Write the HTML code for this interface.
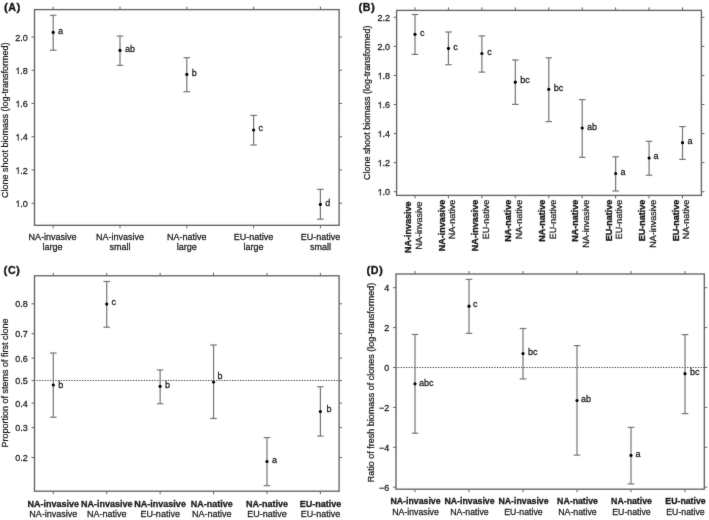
<!DOCTYPE html>
<html><head><meta charset="utf-8"><style>
html,body{margin:0;padding:0;background:#fff;}
body{width:709px;height:520px;overflow:hidden;}
svg{display:block;font-family:"Liberation Sans", sans-serif;}
text{stroke:#1a1a1a;stroke-width:0.26px;}
text.ns{stroke-width:0.24px;text-rendering:geometricPrecision;}
text.bs{stroke-width:0.35px;}
text.hb{stroke-width:0.3px;}
</style></head><body>
<svg width="709" height="520" viewBox="0 0 709 520">
<defs><filter id="soft" filterUnits="userSpaceOnUse" x="0" y="0" width="709" height="520" color-interpolation-filters="sRGB"><feConvolveMatrix order="3" kernelMatrix="0.012 0.06 0.012 0.06 0.712 0.06 0.012 0.06 0.012" divisor="1" edgeMode="duplicate"/></filter></defs>
<g filter="url(#soft)">
<rect width="709" height="520" fill="#fff"/>
<rect x="34.50" y="9.60" width="304.60" height="215.70" fill="none" stroke="#636363" stroke-width="1.35"/>
<line x1="31.50" y1="37.00" x2="34.50" y2="37.00" stroke="#636363" stroke-width="1" />
<line x1="339.10" y1="37.00" x2="342.10" y2="37.00" stroke="#636363" stroke-width="1" />
<text x="27.80" y="40.70" font-size="9" text-anchor="end" font-weight="normal" fill="#1a1a1a">2.0</text>
<line x1="31.50" y1="70.24" x2="34.50" y2="70.24" stroke="#636363" stroke-width="1" />
<line x1="339.10" y1="70.24" x2="342.10" y2="70.24" stroke="#636363" stroke-width="1" />
<path d="M17.85,73.94 L18.64,73.94 L18.64,67.50 L18.13,67.50 L17.75,67.88 L16.27,69.04 L16.27,69.80 L17.85,68.90 Z" fill="#1a1a1a" stroke="#1a1a1a" stroke-width="0.18"/>
<text x="20.29" y="73.94" font-size="9" text-anchor="start" font-weight="normal" fill="#1a1a1a">.8</text>
<line x1="31.50" y1="103.48" x2="34.50" y2="103.48" stroke="#636363" stroke-width="1" />
<line x1="339.10" y1="103.48" x2="342.10" y2="103.48" stroke="#636363" stroke-width="1" />
<path d="M17.85,107.18 L18.64,107.18 L18.64,100.74 L18.13,100.74 L17.75,101.12 L16.27,102.28 L16.27,103.04 L17.85,102.14 Z" fill="#1a1a1a" stroke="#1a1a1a" stroke-width="0.18"/>
<text x="20.29" y="107.18" font-size="9" text-anchor="start" font-weight="normal" fill="#1a1a1a">.6</text>
<line x1="31.50" y1="136.72" x2="34.50" y2="136.72" stroke="#636363" stroke-width="1" />
<line x1="339.10" y1="136.72" x2="342.10" y2="136.72" stroke="#636363" stroke-width="1" />
<path d="M17.85,140.42 L18.64,140.42 L18.64,133.98 L18.13,133.98 L17.75,134.36 L16.27,135.52 L16.27,136.28 L17.85,135.38 Z" fill="#1a1a1a" stroke="#1a1a1a" stroke-width="0.18"/>
<text x="20.29" y="140.42" font-size="9" text-anchor="start" font-weight="normal" fill="#1a1a1a">.4</text>
<line x1="31.50" y1="169.96" x2="34.50" y2="169.96" stroke="#636363" stroke-width="1" />
<line x1="339.10" y1="169.96" x2="342.10" y2="169.96" stroke="#636363" stroke-width="1" />
<path d="M17.85,173.66 L18.64,173.66 L18.64,167.22 L18.13,167.22 L17.75,167.60 L16.27,168.76 L16.27,169.52 L17.85,168.62 Z" fill="#1a1a1a" stroke="#1a1a1a" stroke-width="0.18"/>
<text x="20.29" y="173.66" font-size="9" text-anchor="start" font-weight="normal" fill="#1a1a1a">.2</text>
<line x1="31.50" y1="203.20" x2="34.50" y2="203.20" stroke="#636363" stroke-width="1" />
<line x1="339.10" y1="203.20" x2="342.10" y2="203.20" stroke="#636363" stroke-width="1" />
<path d="M17.85,206.90 L18.64,206.90 L18.64,200.46 L18.13,200.46 L17.75,200.84 L16.27,202.00 L16.27,202.76 L17.85,201.86 Z" fill="#1a1a1a" stroke="#1a1a1a" stroke-width="0.18"/>
<text x="20.29" y="206.90" font-size="9" text-anchor="start" font-weight="normal" fill="#1a1a1a">.0</text>
<line x1="53.20" y1="6.60" x2="53.20" y2="9.60" stroke="#636363" stroke-width="1" />
<line x1="53.20" y1="225.30" x2="53.20" y2="228.30" stroke="#636363" stroke-width="1" />
<line x1="120.00" y1="6.60" x2="120.00" y2="9.60" stroke="#636363" stroke-width="1" />
<line x1="120.00" y1="225.30" x2="120.00" y2="228.30" stroke="#636363" stroke-width="1" />
<line x1="186.80" y1="6.60" x2="186.80" y2="9.60" stroke="#636363" stroke-width="1" />
<line x1="186.80" y1="225.30" x2="186.80" y2="228.30" stroke="#636363" stroke-width="1" />
<line x1="253.60" y1="6.60" x2="253.60" y2="9.60" stroke="#636363" stroke-width="1" />
<line x1="253.60" y1="225.30" x2="253.60" y2="228.30" stroke="#636363" stroke-width="1" />
<line x1="320.40" y1="6.60" x2="320.40" y2="9.60" stroke="#636363" stroke-width="1" />
<line x1="320.40" y1="225.30" x2="320.40" y2="228.30" stroke="#636363" stroke-width="1" />
<text x="52.60" y="240.00" font-size="9" text-anchor="middle" font-weight="normal" fill="#1a1a1a">NA-invasive</text>
<text x="52.60" y="250.00" font-size="9" text-anchor="middle" font-weight="normal" fill="#1a1a1a">large</text>
<text x="120.00" y="240.00" font-size="9" text-anchor="middle" font-weight="normal" fill="#1a1a1a">NA-invasive</text>
<text x="120.00" y="250.00" font-size="9" text-anchor="middle" font-weight="normal" fill="#1a1a1a">small</text>
<text x="186.80" y="240.00" font-size="9" text-anchor="middle" font-weight="normal" fill="#1a1a1a">NA-native</text>
<text x="186.80" y="250.00" font-size="9" text-anchor="middle" font-weight="normal" fill="#1a1a1a">large</text>
<text x="253.60" y="240.00" font-size="9" text-anchor="middle" font-weight="normal" fill="#1a1a1a">EU-native</text>
<text x="253.60" y="250.00" font-size="9" text-anchor="middle" font-weight="normal" fill="#1a1a1a">large</text>
<text x="320.40" y="240.00" font-size="9" text-anchor="middle" font-weight="normal" fill="#1a1a1a">EU-native</text>
<text x="320.40" y="250.00" font-size="9" text-anchor="middle" font-weight="normal" fill="#1a1a1a">small</text>
<line x1="53.20" y1="15.30" x2="53.20" y2="50.20" stroke="#767676" stroke-width="1.2" />
<line x1="49.90" y1="15.30" x2="56.50" y2="15.30" stroke="#767676" stroke-width="1.2" />
<line x1="49.90" y1="50.20" x2="56.50" y2="50.20" stroke="#767676" stroke-width="1.2" />
<circle cx="53.20" cy="32.40" r="1.6" fill="#000"/>
<text x="58.10" y="33.50" font-size="9" text-anchor="start" font-weight="normal" fill="#1a1a1a">a</text>
<line x1="120.00" y1="36.00" x2="120.00" y2="65.40" stroke="#767676" stroke-width="1.2" />
<line x1="116.70" y1="36.00" x2="123.30" y2="36.00" stroke="#767676" stroke-width="1.2" />
<line x1="116.70" y1="65.40" x2="123.30" y2="65.40" stroke="#767676" stroke-width="1.2" />
<circle cx="120.00" cy="50.40" r="1.6" fill="#000"/>
<text x="124.90" y="51.60" font-size="9" text-anchor="start" font-weight="normal" fill="#1a1a1a">ab</text>
<line x1="186.80" y1="57.70" x2="186.80" y2="91.70" stroke="#767676" stroke-width="1.2" />
<line x1="183.50" y1="57.70" x2="190.10" y2="57.70" stroke="#767676" stroke-width="1.2" />
<line x1="183.50" y1="91.70" x2="190.10" y2="91.70" stroke="#767676" stroke-width="1.2" />
<circle cx="186.80" cy="74.40" r="1.6" fill="#000"/>
<text x="191.70" y="75.60" font-size="9" text-anchor="start" font-weight="normal" fill="#1a1a1a">b</text>
<line x1="253.60" y1="115.40" x2="253.60" y2="145.00" stroke="#767676" stroke-width="1.2" />
<line x1="250.30" y1="115.40" x2="256.90" y2="115.40" stroke="#767676" stroke-width="1.2" />
<line x1="250.30" y1="145.00" x2="256.90" y2="145.00" stroke="#767676" stroke-width="1.2" />
<circle cx="253.60" cy="130.00" r="1.6" fill="#000"/>
<text x="258.50" y="131.30" font-size="9" text-anchor="start" font-weight="normal" fill="#1a1a1a">c</text>
<line x1="320.40" y1="189.40" x2="320.40" y2="219.20" stroke="#767676" stroke-width="1.2" />
<line x1="317.10" y1="189.40" x2="323.70" y2="189.40" stroke="#767676" stroke-width="1.2" />
<line x1="317.10" y1="219.20" x2="323.70" y2="219.20" stroke="#767676" stroke-width="1.2" />
<circle cx="320.40" cy="204.40" r="1.6" fill="#000"/>
<text x="325.30" y="206.20" font-size="9" text-anchor="start" font-weight="normal" fill="#1a1a1a">d</text>
<text x="8.10" y="120.30" font-size="9" text-anchor="middle" font-weight="normal" fill="#1a1a1a" transform="rotate(-90 8.10 120.30)">Clone shoot biomass (log-transformed)</text>
<text x="4.00" y="11.10" font-size="11.6" font-weight="bold" fill="#111" letter-spacing="0.45" style="stroke-width:0.3px">(<tspan font-size="10.7">A</tspan>)</text>
<rect x="396.60" y="10.40" width="304.80" height="185.00" fill="none" stroke="#636363" stroke-width="1.35"/>
<line x1="393.60" y1="17.30" x2="396.60" y2="17.30" stroke="#636363" stroke-width="1" />
<line x1="701.40" y1="17.30" x2="704.40" y2="17.30" stroke="#636363" stroke-width="1" />
<text x="389.90" y="21.00" font-size="9" text-anchor="end" font-weight="normal" fill="#1a1a1a">2.2</text>
<line x1="393.60" y1="46.37" x2="396.60" y2="46.37" stroke="#636363" stroke-width="1" />
<line x1="701.40" y1="46.37" x2="704.40" y2="46.37" stroke="#636363" stroke-width="1" />
<text x="389.90" y="50.07" font-size="9" text-anchor="end" font-weight="normal" fill="#1a1a1a">2.0</text>
<line x1="393.60" y1="75.44" x2="396.60" y2="75.44" stroke="#636363" stroke-width="1" />
<line x1="701.40" y1="75.44" x2="704.40" y2="75.44" stroke="#636363" stroke-width="1" />
<path d="M379.95,79.14 L380.74,79.14 L380.74,72.70 L380.23,72.70 L379.85,73.08 L378.37,74.24 L378.37,75.00 L379.95,74.10 Z" fill="#1a1a1a" stroke="#1a1a1a" stroke-width="0.18"/>
<text x="382.39" y="79.14" font-size="9" text-anchor="start" font-weight="normal" fill="#1a1a1a">.8</text>
<line x1="393.60" y1="104.51" x2="396.60" y2="104.51" stroke="#636363" stroke-width="1" />
<line x1="701.40" y1="104.51" x2="704.40" y2="104.51" stroke="#636363" stroke-width="1" />
<path d="M379.95,108.21 L380.74,108.21 L380.74,101.77 L380.23,101.77 L379.85,102.15 L378.37,103.31 L378.37,104.07 L379.95,103.17 Z" fill="#1a1a1a" stroke="#1a1a1a" stroke-width="0.18"/>
<text x="382.39" y="108.21" font-size="9" text-anchor="start" font-weight="normal" fill="#1a1a1a">.6</text>
<line x1="393.60" y1="133.58" x2="396.60" y2="133.58" stroke="#636363" stroke-width="1" />
<line x1="701.40" y1="133.58" x2="704.40" y2="133.58" stroke="#636363" stroke-width="1" />
<path d="M379.95,137.28 L380.74,137.28 L380.74,130.84 L380.23,130.84 L379.85,131.22 L378.37,132.38 L378.37,133.14 L379.95,132.24 Z" fill="#1a1a1a" stroke="#1a1a1a" stroke-width="0.18"/>
<text x="382.39" y="137.28" font-size="9" text-anchor="start" font-weight="normal" fill="#1a1a1a">.4</text>
<line x1="393.60" y1="162.65" x2="396.60" y2="162.65" stroke="#636363" stroke-width="1" />
<line x1="701.40" y1="162.65" x2="704.40" y2="162.65" stroke="#636363" stroke-width="1" />
<path d="M379.95,166.35 L380.74,166.35 L380.74,159.91 L380.23,159.91 L379.85,160.29 L378.37,161.45 L378.37,162.21 L379.95,161.31 Z" fill="#1a1a1a" stroke="#1a1a1a" stroke-width="0.18"/>
<text x="382.39" y="166.35" font-size="9" text-anchor="start" font-weight="normal" fill="#1a1a1a">.2</text>
<line x1="393.60" y1="191.72" x2="396.60" y2="191.72" stroke="#636363" stroke-width="1" />
<line x1="701.40" y1="191.72" x2="704.40" y2="191.72" stroke="#636363" stroke-width="1" />
<path d="M379.95,195.42 L380.74,195.42 L380.74,188.98 L380.23,188.98 L379.85,189.36 L378.37,190.52 L378.37,191.28 L379.95,190.38 Z" fill="#1a1a1a" stroke="#1a1a1a" stroke-width="0.18"/>
<text x="382.39" y="195.42" font-size="9" text-anchor="start" font-weight="normal" fill="#1a1a1a">.0</text>
<line x1="415.00" y1="7.40" x2="415.00" y2="10.40" stroke="#636363" stroke-width="1" />
<line x1="415.00" y1="195.40" x2="415.00" y2="198.40" stroke="#636363" stroke-width="1" />
<line x1="448.44" y1="7.40" x2="448.44" y2="10.40" stroke="#636363" stroke-width="1" />
<line x1="448.44" y1="195.40" x2="448.44" y2="198.40" stroke="#636363" stroke-width="1" />
<line x1="481.88" y1="7.40" x2="481.88" y2="10.40" stroke="#636363" stroke-width="1" />
<line x1="481.88" y1="195.40" x2="481.88" y2="198.40" stroke="#636363" stroke-width="1" />
<line x1="515.32" y1="7.40" x2="515.32" y2="10.40" stroke="#636363" stroke-width="1" />
<line x1="515.32" y1="195.40" x2="515.32" y2="198.40" stroke="#636363" stroke-width="1" />
<line x1="548.76" y1="7.40" x2="548.76" y2="10.40" stroke="#636363" stroke-width="1" />
<line x1="548.76" y1="195.40" x2="548.76" y2="198.40" stroke="#636363" stroke-width="1" />
<line x1="582.20" y1="7.40" x2="582.20" y2="10.40" stroke="#636363" stroke-width="1" />
<line x1="582.20" y1="195.40" x2="582.20" y2="198.40" stroke="#636363" stroke-width="1" />
<line x1="615.64" y1="7.40" x2="615.64" y2="10.40" stroke="#636363" stroke-width="1" />
<line x1="615.64" y1="195.40" x2="615.64" y2="198.40" stroke="#636363" stroke-width="1" />
<line x1="649.08" y1="7.40" x2="649.08" y2="10.40" stroke="#636363" stroke-width="1" />
<line x1="649.08" y1="195.40" x2="649.08" y2="198.40" stroke="#636363" stroke-width="1" />
<line x1="682.52" y1="7.40" x2="682.52" y2="10.40" stroke="#636363" stroke-width="1" />
<line x1="682.52" y1="195.40" x2="682.52" y2="198.40" stroke="#636363" stroke-width="1" />
<text x="411.10" y="201.50" font-size="9" text-anchor="end" font-weight="bold" fill="#1a1a1a" transform="rotate(-90 411.10 201.50)" class="bs">NA-invasive</text>
<text x="421.80" y="201.50" font-size="9" text-anchor="end" font-weight="normal" fill="#1a1a1a" transform="rotate(-90 421.80 201.50)" class="ns">NA-invasive</text>
<text x="444.54" y="199.80" font-size="9" text-anchor="end" font-weight="bold" fill="#1a1a1a" transform="rotate(-90 444.54 199.80)" class="bs">NA-invasive</text>
<text x="455.24" y="199.80" font-size="9" text-anchor="end" font-weight="normal" fill="#1a1a1a" transform="rotate(-90 455.24 199.80)" class="ns">NA-native</text>
<text x="477.98" y="199.80" font-size="9" text-anchor="end" font-weight="bold" fill="#1a1a1a" transform="rotate(-90 477.98 199.80)" class="bs">NA-invasive</text>
<text x="488.68" y="199.80" font-size="9" text-anchor="end" font-weight="normal" fill="#1a1a1a" transform="rotate(-90 488.68 199.80)" class="ns">EU-native</text>
<text x="511.42" y="199.80" font-size="9" text-anchor="end" font-weight="bold" fill="#1a1a1a" transform="rotate(-90 511.42 199.80)" class="bs">NA-native</text>
<text x="522.12" y="199.80" font-size="9" text-anchor="end" font-weight="normal" fill="#1a1a1a" transform="rotate(-90 522.12 199.80)" class="ns">NA-native</text>
<text x="544.86" y="199.80" font-size="9" text-anchor="end" font-weight="bold" fill="#1a1a1a" transform="rotate(-90 544.86 199.80)" class="bs">NA-native</text>
<text x="555.56" y="199.80" font-size="9" text-anchor="end" font-weight="normal" fill="#1a1a1a" transform="rotate(-90 555.56 199.80)" class="ns">EU-native</text>
<text x="578.30" y="199.80" font-size="9" text-anchor="end" font-weight="bold" fill="#1a1a1a" transform="rotate(-90 578.30 199.80)" class="bs">NA-native</text>
<text x="589.00" y="199.80" font-size="9" text-anchor="end" font-weight="normal" fill="#1a1a1a" transform="rotate(-90 589.00 199.80)" class="ns">NA-invasive</text>
<text x="611.74" y="199.80" font-size="9" text-anchor="end" font-weight="bold" fill="#1a1a1a" transform="rotate(-90 611.74 199.80)" class="bs">EU-native</text>
<text x="622.44" y="199.80" font-size="9" text-anchor="end" font-weight="normal" fill="#1a1a1a" transform="rotate(-90 622.44 199.80)" class="ns">EU-native</text>
<text x="645.18" y="199.80" font-size="9" text-anchor="end" font-weight="bold" fill="#1a1a1a" transform="rotate(-90 645.18 199.80)" class="bs">EU-native</text>
<text x="655.88" y="199.80" font-size="9" text-anchor="end" font-weight="normal" fill="#1a1a1a" transform="rotate(-90 655.88 199.80)" class="ns">NA-invasive</text>
<text x="678.62" y="199.80" font-size="9" text-anchor="end" font-weight="bold" fill="#1a1a1a" transform="rotate(-90 678.62 199.80)" class="bs">EU-native</text>
<text x="689.32" y="199.80" font-size="9" text-anchor="end" font-weight="normal" fill="#1a1a1a" transform="rotate(-90 689.32 199.80)" class="ns">NA-native</text>
<line x1="415.00" y1="14.50" x2="415.00" y2="54.40" stroke="#767676" stroke-width="1.2" />
<line x1="411.70" y1="14.50" x2="418.30" y2="14.50" stroke="#767676" stroke-width="1.2" />
<line x1="411.70" y1="54.40" x2="418.30" y2="54.40" stroke="#767676" stroke-width="1.2" />
<circle cx="415.00" cy="34.30" r="1.6" fill="#000"/>
<text x="419.90" y="35.80" font-size="9" text-anchor="start" font-weight="normal" fill="#1a1a1a">c</text>
<line x1="448.44" y1="32.00" x2="448.44" y2="64.70" stroke="#767676" stroke-width="1.2" />
<line x1="445.14" y1="32.00" x2="451.74" y2="32.00" stroke="#767676" stroke-width="1.2" />
<line x1="445.14" y1="64.70" x2="451.74" y2="64.70" stroke="#767676" stroke-width="1.2" />
<circle cx="448.44" cy="48.40" r="1.6" fill="#000"/>
<text x="453.34" y="49.60" font-size="9" text-anchor="start" font-weight="normal" fill="#1a1a1a">c</text>
<line x1="481.88" y1="35.90" x2="481.88" y2="72.10" stroke="#767676" stroke-width="1.2" />
<line x1="478.58" y1="35.90" x2="485.18" y2="35.90" stroke="#767676" stroke-width="1.2" />
<line x1="478.58" y1="72.10" x2="485.18" y2="72.10" stroke="#767676" stroke-width="1.2" />
<circle cx="481.88" cy="53.50" r="1.6" fill="#000"/>
<text x="487.28" y="55.00" font-size="9" text-anchor="start" font-weight="normal" fill="#1a1a1a">c</text>
<line x1="515.32" y1="60.00" x2="515.32" y2="104.40" stroke="#767676" stroke-width="1.2" />
<line x1="512.02" y1="60.00" x2="518.62" y2="60.00" stroke="#767676" stroke-width="1.2" />
<line x1="512.02" y1="104.40" x2="518.62" y2="104.40" stroke="#767676" stroke-width="1.2" />
<circle cx="515.32" cy="82.20" r="1.6" fill="#000"/>
<text x="520.22" y="83.40" font-size="9" text-anchor="start" font-weight="normal" fill="#1a1a1a">bc</text>
<line x1="548.76" y1="57.80" x2="548.76" y2="121.60" stroke="#767676" stroke-width="1.2" />
<line x1="545.46" y1="57.80" x2="552.06" y2="57.80" stroke="#767676" stroke-width="1.2" />
<line x1="545.46" y1="121.60" x2="552.06" y2="121.60" stroke="#767676" stroke-width="1.2" />
<circle cx="548.76" cy="89.30" r="1.6" fill="#000"/>
<text x="553.66" y="90.80" font-size="9" text-anchor="start" font-weight="normal" fill="#1a1a1a">bc</text>
<line x1="582.20" y1="99.60" x2="582.20" y2="157.30" stroke="#767676" stroke-width="1.2" />
<line x1="578.90" y1="99.60" x2="585.50" y2="99.60" stroke="#767676" stroke-width="1.2" />
<line x1="578.90" y1="157.30" x2="585.50" y2="157.30" stroke="#767676" stroke-width="1.2" />
<circle cx="582.20" cy="128.00" r="1.6" fill="#000"/>
<text x="587.10" y="129.50" font-size="9" text-anchor="start" font-weight="normal" fill="#1a1a1a">ab</text>
<line x1="615.64" y1="156.80" x2="615.64" y2="191.00" stroke="#767676" stroke-width="1.2" />
<line x1="612.34" y1="156.80" x2="618.94" y2="156.80" stroke="#767676" stroke-width="1.2" />
<line x1="612.34" y1="191.00" x2="618.94" y2="191.00" stroke="#767676" stroke-width="1.2" />
<circle cx="615.64" cy="173.50" r="1.6" fill="#000"/>
<text x="620.54" y="175.00" font-size="9" text-anchor="start" font-weight="normal" fill="#1a1a1a">a</text>
<line x1="649.08" y1="141.30" x2="649.08" y2="175.20" stroke="#767676" stroke-width="1.2" />
<line x1="645.78" y1="141.30" x2="652.38" y2="141.30" stroke="#767676" stroke-width="1.2" />
<line x1="645.78" y1="175.20" x2="652.38" y2="175.20" stroke="#767676" stroke-width="1.2" />
<circle cx="649.08" cy="158.00" r="1.6" fill="#000"/>
<text x="653.48" y="158.70" font-size="9" text-anchor="start" font-weight="normal" fill="#1a1a1a">a</text>
<line x1="682.52" y1="126.60" x2="682.52" y2="159.40" stroke="#767676" stroke-width="1.2" />
<line x1="679.22" y1="126.60" x2="685.82" y2="126.60" stroke="#767676" stroke-width="1.2" />
<line x1="679.22" y1="159.40" x2="685.82" y2="159.40" stroke="#767676" stroke-width="1.2" />
<circle cx="682.52" cy="142.70" r="1.6" fill="#000"/>
<text x="687.42" y="144.20" font-size="9" text-anchor="start" font-weight="normal" fill="#1a1a1a">a</text>
<text x="370.40" y="102.70" font-size="8.95" text-anchor="middle" font-weight="normal" fill="#1a1a1a" transform="rotate(-90 370.40 102.70)">Clone shoot biomass (log-transformed)</text>
<text x="358.40" y="11.10" font-size="11.6" font-weight="bold" fill="#111" letter-spacing="0.45" style="stroke-width:0.3px">(<tspan font-size="10.7">B</tspan>)</text>
<rect x="34.50" y="275.80" width="304.60" height="215.40" fill="none" stroke="#636363" stroke-width="1.35"/>
<line x1="31.50" y1="303.79" x2="34.50" y2="303.79" stroke="#636363" stroke-width="1" />
<line x1="339.10" y1="303.79" x2="342.10" y2="303.79" stroke="#636363" stroke-width="1" />
<text x="27.80" y="307.49" font-size="9" text-anchor="end" font-weight="normal" fill="#1a1a1a">0.8</text>
<line x1="31.50" y1="333.68" x2="34.50" y2="333.68" stroke="#636363" stroke-width="1" />
<line x1="339.10" y1="333.68" x2="342.10" y2="333.68" stroke="#636363" stroke-width="1" />
<text x="27.80" y="337.38" font-size="9" text-anchor="end" font-weight="normal" fill="#1a1a1a">0.7</text>
<line x1="31.50" y1="358.17" x2="34.50" y2="358.17" stroke="#636363" stroke-width="1" />
<line x1="339.10" y1="358.17" x2="342.10" y2="358.17" stroke="#636363" stroke-width="1" />
<text x="27.80" y="361.87" font-size="9" text-anchor="end" font-weight="normal" fill="#1a1a1a">0.6</text>
<line x1="31.50" y1="380.65" x2="34.50" y2="380.65" stroke="#636363" stroke-width="1" />
<line x1="339.10" y1="380.65" x2="342.10" y2="380.65" stroke="#636363" stroke-width="1" />
<text x="27.80" y="384.35" font-size="9" text-anchor="end" font-weight="normal" fill="#1a1a1a">0.5</text>
<line x1="31.50" y1="403.13" x2="34.50" y2="403.13" stroke="#636363" stroke-width="1" />
<line x1="339.10" y1="403.13" x2="342.10" y2="403.13" stroke="#636363" stroke-width="1" />
<text x="27.80" y="406.83" font-size="9" text-anchor="end" font-weight="normal" fill="#1a1a1a">0.4</text>
<line x1="31.50" y1="427.62" x2="34.50" y2="427.62" stroke="#636363" stroke-width="1" />
<line x1="339.10" y1="427.62" x2="342.10" y2="427.62" stroke="#636363" stroke-width="1" />
<text x="27.80" y="431.32" font-size="9" text-anchor="end" font-weight="normal" fill="#1a1a1a">0.3</text>
<line x1="31.50" y1="457.51" x2="34.50" y2="457.51" stroke="#636363" stroke-width="1" />
<line x1="339.10" y1="457.51" x2="342.10" y2="457.51" stroke="#636363" stroke-width="1" />
<text x="27.80" y="461.21" font-size="9" text-anchor="end" font-weight="normal" fill="#1a1a1a">0.2</text>
<line x1="34.50" y1="380.50" x2="339.10" y2="380.50" stroke="#474747" stroke-width="1" stroke-dasharray="1.339 1.339" stroke-dashoffset="0.68"/>
<line x1="53.30" y1="272.80" x2="53.30" y2="275.80" stroke="#636363" stroke-width="1" />
<line x1="53.30" y1="491.20" x2="53.30" y2="494.20" stroke="#636363" stroke-width="1" />
<line x1="106.72" y1="272.80" x2="106.72" y2="275.80" stroke="#636363" stroke-width="1" />
<line x1="106.72" y1="491.20" x2="106.72" y2="494.20" stroke="#636363" stroke-width="1" />
<line x1="160.14" y1="272.80" x2="160.14" y2="275.80" stroke="#636363" stroke-width="1" />
<line x1="160.14" y1="491.20" x2="160.14" y2="494.20" stroke="#636363" stroke-width="1" />
<line x1="213.56" y1="272.80" x2="213.56" y2="275.80" stroke="#636363" stroke-width="1" />
<line x1="213.56" y1="491.20" x2="213.56" y2="494.20" stroke="#636363" stroke-width="1" />
<line x1="266.98" y1="272.80" x2="266.98" y2="275.80" stroke="#636363" stroke-width="1" />
<line x1="266.98" y1="491.20" x2="266.98" y2="494.20" stroke="#636363" stroke-width="1" />
<line x1="320.40" y1="272.80" x2="320.40" y2="275.80" stroke="#636363" stroke-width="1" />
<line x1="320.40" y1="491.20" x2="320.40" y2="494.20" stroke="#636363" stroke-width="1" />
<text x="53.30" y="506.70" font-size="9" text-anchor="middle" font-weight="bold" fill="#1a1a1a" class="hb">NA-invasive</text>
<text x="53.30" y="517.00" font-size="9" text-anchor="middle" font-weight="normal" fill="#1a1a1a">NA-invasive</text>
<text x="106.72" y="506.70" font-size="9" text-anchor="middle" font-weight="bold" fill="#1a1a1a" class="hb">NA-invasive</text>
<text x="106.72" y="517.00" font-size="9" text-anchor="middle" font-weight="normal" fill="#1a1a1a">NA-native</text>
<text x="160.14" y="506.70" font-size="9" text-anchor="middle" font-weight="bold" fill="#1a1a1a" class="hb">NA-invasive</text>
<text x="160.14" y="517.00" font-size="9" text-anchor="middle" font-weight="normal" fill="#1a1a1a">EU-native</text>
<text x="211.76" y="506.70" font-size="9" text-anchor="middle" font-weight="bold" fill="#1a1a1a" class="hb">NA-native</text>
<text x="211.76" y="517.00" font-size="9" text-anchor="middle" font-weight="normal" fill="#1a1a1a">NA-native</text>
<text x="266.98" y="506.70" font-size="9" text-anchor="middle" font-weight="bold" fill="#1a1a1a" class="hb">NA-native</text>
<text x="266.98" y="517.00" font-size="9" text-anchor="middle" font-weight="normal" fill="#1a1a1a">EU-native</text>
<text x="320.40" y="506.70" font-size="9" text-anchor="middle" font-weight="bold" fill="#1a1a1a" class="hb">EU-native</text>
<text x="320.40" y="517.00" font-size="9" text-anchor="middle" font-weight="normal" fill="#1a1a1a">EU-native</text>
<line x1="53.30" y1="353.00" x2="53.30" y2="417.20" stroke="#767676" stroke-width="1.2" />
<line x1="50.00" y1="353.00" x2="56.60" y2="353.00" stroke="#767676" stroke-width="1.2" />
<line x1="50.00" y1="417.20" x2="56.60" y2="417.20" stroke="#767676" stroke-width="1.2" />
<circle cx="53.30" cy="385.00" r="1.6" fill="#000"/>
<text x="58.20" y="387.90" font-size="9" text-anchor="start" font-weight="normal" fill="#1a1a1a">b</text>
<line x1="106.72" y1="281.50" x2="106.72" y2="327.20" stroke="#767676" stroke-width="1.2" />
<line x1="103.42" y1="281.50" x2="110.02" y2="281.50" stroke="#767676" stroke-width="1.2" />
<line x1="103.42" y1="327.20" x2="110.02" y2="327.20" stroke="#767676" stroke-width="1.2" />
<circle cx="106.72" cy="304.10" r="1.6" fill="#000"/>
<text x="111.62" y="305.40" font-size="9" text-anchor="start" font-weight="normal" fill="#1a1a1a">c</text>
<line x1="160.14" y1="369.90" x2="160.14" y2="403.70" stroke="#767676" stroke-width="1.2" />
<line x1="156.84" y1="369.90" x2="163.44" y2="369.90" stroke="#767676" stroke-width="1.2" />
<line x1="156.84" y1="403.70" x2="163.44" y2="403.70" stroke="#767676" stroke-width="1.2" />
<circle cx="160.14" cy="386.30" r="1.6" fill="#000"/>
<text x="165.04" y="387.90" font-size="9" text-anchor="start" font-weight="normal" fill="#1a1a1a">b</text>
<line x1="213.56" y1="345.00" x2="213.56" y2="418.50" stroke="#767676" stroke-width="1.2" />
<line x1="210.26" y1="345.00" x2="216.86" y2="345.00" stroke="#767676" stroke-width="1.2" />
<line x1="210.26" y1="418.50" x2="216.86" y2="418.50" stroke="#767676" stroke-width="1.2" />
<circle cx="213.56" cy="382.00" r="1.6" fill="#000"/>
<text x="217.46" y="379.10" font-size="9" text-anchor="start" font-weight="normal" fill="#1a1a1a">b</text>
<line x1="266.98" y1="437.60" x2="266.98" y2="485.70" stroke="#767676" stroke-width="1.2" />
<line x1="263.68" y1="437.60" x2="270.28" y2="437.60" stroke="#767676" stroke-width="1.2" />
<line x1="263.68" y1="485.70" x2="270.28" y2="485.70" stroke="#767676" stroke-width="1.2" />
<circle cx="266.98" cy="461.50" r="1.6" fill="#000"/>
<text x="271.88" y="462.80" font-size="9" text-anchor="start" font-weight="normal" fill="#1a1a1a">a</text>
<line x1="320.40" y1="386.80" x2="320.40" y2="436.10" stroke="#767676" stroke-width="1.2" />
<line x1="317.10" y1="386.80" x2="323.70" y2="386.80" stroke="#767676" stroke-width="1.2" />
<line x1="317.10" y1="436.10" x2="323.70" y2="436.10" stroke="#767676" stroke-width="1.2" />
<circle cx="320.40" cy="411.60" r="1.6" fill="#000"/>
<text x="326.60" y="412.00" font-size="9" text-anchor="start" font-weight="normal" fill="#1a1a1a">b</text>
<text x="7.90" y="383.00" font-size="9" text-anchor="middle" font-weight="normal" fill="#1a1a1a" transform="rotate(-90 7.90 383.00)">Proportion of stems of first clone</text>
<text x="3.60" y="274.00" font-size="11.6" font-weight="bold" fill="#111" letter-spacing="0.45" style="stroke-width:0.3px">(<tspan font-size="10.7">C</tspan>)</text>
<rect x="396.00" y="274.00" width="308.30" height="215.20" fill="none" stroke="#636363" stroke-width="1.35"/>
<line x1="393.00" y1="287.70" x2="396.00" y2="287.70" stroke="#636363" stroke-width="1" />
<line x1="704.30" y1="287.70" x2="707.30" y2="287.70" stroke="#636363" stroke-width="1" />
<text x="389.30" y="291.40" font-size="9" text-anchor="end" font-weight="normal" fill="#1a1a1a">4</text>
<line x1="393.00" y1="327.60" x2="396.00" y2="327.60" stroke="#636363" stroke-width="1" />
<line x1="704.30" y1="327.60" x2="707.30" y2="327.60" stroke="#636363" stroke-width="1" />
<text x="389.30" y="331.30" font-size="9" text-anchor="end" font-weight="normal" fill="#1a1a1a">2</text>
<line x1="393.00" y1="367.50" x2="396.00" y2="367.50" stroke="#636363" stroke-width="1" />
<line x1="704.30" y1="367.50" x2="707.30" y2="367.50" stroke="#636363" stroke-width="1" />
<text x="389.30" y="371.20" font-size="9" text-anchor="end" font-weight="normal" fill="#1a1a1a">0</text>
<line x1="393.00" y1="407.40" x2="396.00" y2="407.40" stroke="#636363" stroke-width="1" />
<line x1="704.30" y1="407.40" x2="707.30" y2="407.40" stroke="#636363" stroke-width="1" />
<text x="389.30" y="411.10" font-size="9" text-anchor="end" font-weight="normal" fill="#1a1a1a">−2</text>
<line x1="393.00" y1="447.30" x2="396.00" y2="447.30" stroke="#636363" stroke-width="1" />
<line x1="704.30" y1="447.30" x2="707.30" y2="447.30" stroke="#636363" stroke-width="1" />
<text x="389.30" y="451.00" font-size="9" text-anchor="end" font-weight="normal" fill="#1a1a1a">−4</text>
<line x1="393.00" y1="487.20" x2="396.00" y2="487.20" stroke="#636363" stroke-width="1" />
<line x1="704.30" y1="487.20" x2="707.30" y2="487.20" stroke="#636363" stroke-width="1" />
<text x="389.30" y="490.90" font-size="9" text-anchor="end" font-weight="normal" fill="#1a1a1a">−6</text>
<line x1="396.00" y1="367.50" x2="704.30" y2="367.50" stroke="#474747" stroke-width="1" stroke-dasharray="1.339 1.339" stroke-dashoffset="0.81"/>
<line x1="415.00" y1="271.00" x2="415.00" y2="274.00" stroke="#636363" stroke-width="1" />
<line x1="415.00" y1="489.20" x2="415.00" y2="492.20" stroke="#636363" stroke-width="1" />
<line x1="469.00" y1="271.00" x2="469.00" y2="274.00" stroke="#636363" stroke-width="1" />
<line x1="469.00" y1="489.20" x2="469.00" y2="492.20" stroke="#636363" stroke-width="1" />
<line x1="523.00" y1="271.00" x2="523.00" y2="274.00" stroke="#636363" stroke-width="1" />
<line x1="523.00" y1="489.20" x2="523.00" y2="492.20" stroke="#636363" stroke-width="1" />
<line x1="577.00" y1="271.00" x2="577.00" y2="274.00" stroke="#636363" stroke-width="1" />
<line x1="577.00" y1="489.20" x2="577.00" y2="492.20" stroke="#636363" stroke-width="1" />
<line x1="631.00" y1="271.00" x2="631.00" y2="274.00" stroke="#636363" stroke-width="1" />
<line x1="631.00" y1="489.20" x2="631.00" y2="492.20" stroke="#636363" stroke-width="1" />
<line x1="685.00" y1="271.00" x2="685.00" y2="274.00" stroke="#636363" stroke-width="1" />
<line x1="685.00" y1="489.20" x2="685.00" y2="492.20" stroke="#636363" stroke-width="1" />
<text x="415.50" y="504.30" font-size="8.75" text-anchor="middle" font-weight="bold" fill="#1a1a1a" class="hb">NA-invasive</text>
<text x="415.50" y="514.70" font-size="8.75" text-anchor="middle" font-weight="normal" fill="#1a1a1a">NA-invasive</text>
<text x="469.50" y="504.30" font-size="8.75" text-anchor="middle" font-weight="bold" fill="#1a1a1a" class="hb">NA-invasive</text>
<text x="469.50" y="514.70" font-size="8.75" text-anchor="middle" font-weight="normal" fill="#1a1a1a">NA-native</text>
<text x="523.50" y="504.30" font-size="8.75" text-anchor="middle" font-weight="bold" fill="#1a1a1a" class="hb">NA-invasive</text>
<text x="523.50" y="514.70" font-size="8.75" text-anchor="middle" font-weight="normal" fill="#1a1a1a">EU-native</text>
<text x="577.50" y="504.30" font-size="8.75" text-anchor="middle" font-weight="bold" fill="#1a1a1a" class="hb">NA-native</text>
<text x="577.50" y="514.70" font-size="8.75" text-anchor="middle" font-weight="normal" fill="#1a1a1a">NA-native</text>
<text x="631.50" y="504.30" font-size="8.75" text-anchor="middle" font-weight="bold" fill="#1a1a1a" class="hb">NA-native</text>
<text x="631.50" y="514.70" font-size="8.75" text-anchor="middle" font-weight="normal" fill="#1a1a1a">EU-native</text>
<text x="685.50" y="504.30" font-size="8.75" text-anchor="middle" font-weight="bold" fill="#1a1a1a" class="hb">EU-native</text>
<text x="685.50" y="514.70" font-size="8.75" text-anchor="middle" font-weight="normal" fill="#1a1a1a">EU-native</text>
<line x1="415.00" y1="334.50" x2="415.00" y2="433.20" stroke="#767676" stroke-width="1.2" />
<line x1="411.70" y1="334.50" x2="418.30" y2="334.50" stroke="#767676" stroke-width="1.2" />
<line x1="411.70" y1="433.20" x2="418.30" y2="433.20" stroke="#767676" stroke-width="1.2" />
<circle cx="415.00" cy="383.80" r="1.6" fill="#000"/>
<text x="418.90" y="386.00" font-size="9" text-anchor="start" font-weight="normal" fill="#1a1a1a">abc</text>
<line x1="469.00" y1="279.40" x2="469.00" y2="333.40" stroke="#767676" stroke-width="1.2" />
<line x1="465.70" y1="279.40" x2="472.30" y2="279.40" stroke="#767676" stroke-width="1.2" />
<line x1="465.70" y1="333.40" x2="472.30" y2="333.40" stroke="#767676" stroke-width="1.2" />
<circle cx="469.00" cy="306.20" r="1.6" fill="#000"/>
<text x="473.10" y="307.30" font-size="9" text-anchor="start" font-weight="normal" fill="#1a1a1a">c</text>
<line x1="523.00" y1="328.50" x2="523.00" y2="378.90" stroke="#767676" stroke-width="1.2" />
<line x1="519.70" y1="328.50" x2="526.30" y2="328.50" stroke="#767676" stroke-width="1.2" />
<line x1="519.70" y1="378.90" x2="526.30" y2="378.90" stroke="#767676" stroke-width="1.2" />
<circle cx="523.00" cy="353.60" r="1.6" fill="#000"/>
<text x="527.90" y="355.10" font-size="9" text-anchor="start" font-weight="normal" fill="#1a1a1a">bc</text>
<line x1="577.00" y1="345.60" x2="577.00" y2="455.10" stroke="#767676" stroke-width="1.2" />
<line x1="573.70" y1="345.60" x2="580.30" y2="345.60" stroke="#767676" stroke-width="1.2" />
<line x1="573.70" y1="455.10" x2="580.30" y2="455.10" stroke="#767676" stroke-width="1.2" />
<circle cx="577.00" cy="400.50" r="1.6" fill="#000"/>
<text x="580.90" y="402.00" font-size="9" text-anchor="start" font-weight="normal" fill="#1a1a1a">ab</text>
<line x1="631.00" y1="427.40" x2="631.00" y2="483.90" stroke="#767676" stroke-width="1.2" />
<line x1="627.70" y1="427.40" x2="634.30" y2="427.40" stroke="#767676" stroke-width="1.2" />
<line x1="627.70" y1="483.90" x2="634.30" y2="483.90" stroke="#767676" stroke-width="1.2" />
<circle cx="631.00" cy="455.40" r="1.6" fill="#000"/>
<text x="635.40" y="456.60" font-size="9" text-anchor="start" font-weight="normal" fill="#1a1a1a">a</text>
<line x1="685.00" y1="334.60" x2="685.00" y2="413.60" stroke="#767676" stroke-width="1.2" />
<line x1="681.70" y1="334.60" x2="688.30" y2="334.60" stroke="#767676" stroke-width="1.2" />
<line x1="681.70" y1="413.60" x2="688.30" y2="413.60" stroke="#767676" stroke-width="1.2" />
<circle cx="685.00" cy="373.70" r="1.6" fill="#000"/>
<text x="689.90" y="375.20" font-size="9" text-anchor="start" font-weight="normal" fill="#1a1a1a">bc</text>
<text x="373.70" y="382.50" font-size="9" text-anchor="middle" font-weight="normal" fill="#1a1a1a" transform="rotate(-90 373.70 382.50)">Ratio of fresh biomass of clones (log-transformed)</text>
<text x="366.50" y="273.80" font-size="11.6" font-weight="bold" fill="#111" letter-spacing="0.45" style="stroke-width:0.3px">(<tspan font-size="10.7">D</tspan>)</text>
</g>
</svg>
</body></html>
